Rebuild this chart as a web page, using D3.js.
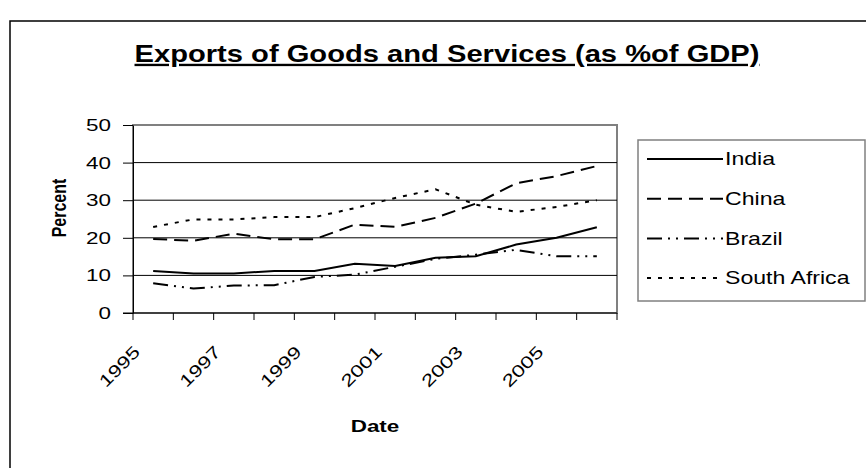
<!DOCTYPE html>
<html>
<head>
<meta charset="utf-8">
<script src="https://cdn.jsdelivr.net/npm/d3@7"></script>
<style>
  body { margin: 0; background: white; }
  text { font-family: "Liberation Sans", Arial, sans-serif; fill: black; }
</style>
</head>
<body>
<div id="chart"></div>
<script>
// Data
const years = [1995, 1996, 1997, 1998, 1999, 2000, 2001, 2002, 2003, 2004, 2005, 2006]
const yearLabels = ['1995', '', '1997', '', '1999', '', '2001', '', '2003', '', '2005', '']
const india = [11.2, 10.5, 10.5, 11.2, 11.2, 13.1, 12.5, 14.7, 15.1, 18.2, 20.0, 22.8]
const china = [19.7, 19.2, 21.1, 19.6, 19.6, 23.5, 22.9, 25.3, 29.1, 34.5, 36.4, 39.1]
const brazil = [7.9, 6.5, 7.3, 7.4, 9.6, 10.2, 12.3, 14.4, 15.5, 16.8, 15.1, 15.1]
const southAfrica = [22.9, 24.9, 24.9, 25.5, 25.5, 27.9, 30.6, 32.9, 28.8, 26.9, 28.2, 30.0]
const seriesNames = ['India', 'China', 'Brazil', 'South Africa']
const yTicks = [0, 10, 20, 30, 40, 50]

const series = [india, china, brazil, southAfrica].map((values, i) => ({
  name: seriesNames[i],
  values: values
}))
const dashes = ['none', '14,7', '15,6,2,6,2,6', '4,7']

const width = 866
const height = 468
const plot = { left: 133, right: 617, top: 125, bottom: 313 }
// the original picture's text is wider than it is tall
const stretch = 1.32

const svg = d3.select('#chart').append('svg')
  .attr('width', width)
  .attr('height', height)

function addText (parent, x, y, str, size, opts = {}) {
  // rotate first, then stretch along the text direction
  const rot = opts.rotate ? `rotate(${opts.rotate}) ` : ''
  const sx = opts.stretch || stretch
  return parent.append('text')
    .attr('transform', `translate(${x},${y}) ${rot}scale(${sx},1)`)
    .attr('text-anchor', opts.anchor || 'start')
    .attr('dy', opts.dy || null)
    .style('font-size', `${size}px`)
    .style('font-weight', opts.bold ? 'bold' : 'normal')
    .text(str)
}

// outer chart frame
svg.append('rect')
  .attr('x', 10)
  .attr('y', 21)
  .attr('width', 900)
  .attr('height', 500)
  .attr('fill', 'white')
  .attr('stroke', 'black')
  .attr('stroke-width', 1.5)

// title
addText(svg, 447, 62, 'Exports of Goods and Services (as %of GDP)', 23.5, { anchor: 'middle', bold: true, stretch: 1.24 })
  .style('text-decoration', 'underline')

const x = d3.scaleBand()
  .domain(years)
  .range([plot.left, plot.right])

const y = d3.scaleLinear()
  .domain([0, 50])
  .range([plot.bottom, plot.top])

const cx = d => x(d) + x.bandwidth() / 2

// plot area border
svg.append('rect')
  .attr('x', plot.left)
  .attr('y', plot.top)
  .attr('width', plot.right - plot.left)
  .attr('height', plot.bottom - plot.top)
  .attr('fill', 'none')
  .attr('stroke', '#808080')
  .attr('stroke-width', 2)

// gridlines
svg.append('g')
  .selectAll('line')
  .data(yTicks.filter(t => t > 0 && t < 50))
  .enter()
  .append('line')
  .attr('x1', plot.left)
  .attr('x2', plot.right)
  .attr('y1', d => y(d))
  .attr('y2', d => y(d))
  .attr('stroke', 'black')
  .attr('stroke-width', 1)

// y axis
const yAxis = svg.append('g')
  .attr('transform', `translate(${plot.left},0)`)
  .call(d3.axisLeft(y).tickValues(yTicks).tickSize(10).tickSizeOuter(0))
yAxis.select('.domain').attr('stroke', 'black')
yAxis.selectAll('.tick line').attr('stroke', 'black')
yAxis.selectAll('.tick text')
  .attr('x', null)
  .attr('transform', `translate(-22,0) scale(${stretch},1)`)
  .style('font-size', '17px')
  .style('font-family', '"Liberation Sans", Arial, sans-serif')
  .attr('fill', 'black')

// x axis: ticks at category boundaries
const xAxis = svg.append('g')
xAxis.append('line')
  .attr('x1', plot.left - 10)
  .attr('x2', plot.right)
  .attr('y1', plot.bottom)
  .attr('y2', plot.bottom)
  .attr('stroke', 'black')
xAxis.selectAll('.xtick')
  .data(years.map(d => x(d)).concat([plot.right]))
  .enter()
  .append('line')
  .attr('class', 'xtick')
  .attr('x1', d => d)
  .attr('x2', d => d)
  .attr('y1', plot.bottom)
  .attr('y2', plot.bottom + 7)
  .attr('stroke', 'black')
years.forEach((d, i) => {
  if (yearLabels[i] !== '') {
    addText(xAxis, cx(d) - 12, plot.bottom + 40, yearLabels[i], 17, { anchor: 'end', rotate: -45 })
  }
})

// axis titles
addText(svg, (plot.left + plot.right) / 2, 432, 'Date', 17, { anchor: 'middle', bold: true })
svg.append('text')
  .attr('transform', `translate(66,208) rotate(-90) scale(1,${stretch})`)
  .attr('text-anchor', 'middle')
  .style('font-size', '16px')
  .style('font-weight', 'bold')
  .text('Percent')

// series lines
const line = d3.line()
  .x((d, i) => cx(years[i]))
  .y(d => y(d))

svg.append('g')
  .selectAll('path')
  .data(series)
  .enter()
  .append('path')
  .attr('d', d => line(d.values))
  .attr('fill', 'none')
  .attr('stroke', 'black')
  .attr('stroke-width', 2)
  .attr('stroke-dasharray', (d, i) => dashes[i])

// legend
const legend = svg.append('g')
legend.append('rect')
  .attr('x', 638)
  .attr('y', 140)
  .attr('width', 227)
  .attr('height', 161)
  .attr('fill', 'white')
  .attr('stroke', '#808080')
  .attr('stroke-width', 1.5)

const items = legend.selectAll('.legendItem')
  .data(series)
  .enter()
  .append('g')
  .attr('class', 'legendItem')
  .attr('transform', (d, i) => `translate(0,${159 + i * 39.7})`)

items.append('line')
  .attr('x1', 647)
  .attr('x2', 723)
  .attr('stroke', 'black')
  .attr('stroke-width', 2)
  .attr('stroke-dasharray', (d, i) => dashes[i])

items.each(function (d) {
  addText(d3.select(this), 725, 0, d.name, 17.5, { dy: '0.36em' })
})
</script>
</body>
</html>
